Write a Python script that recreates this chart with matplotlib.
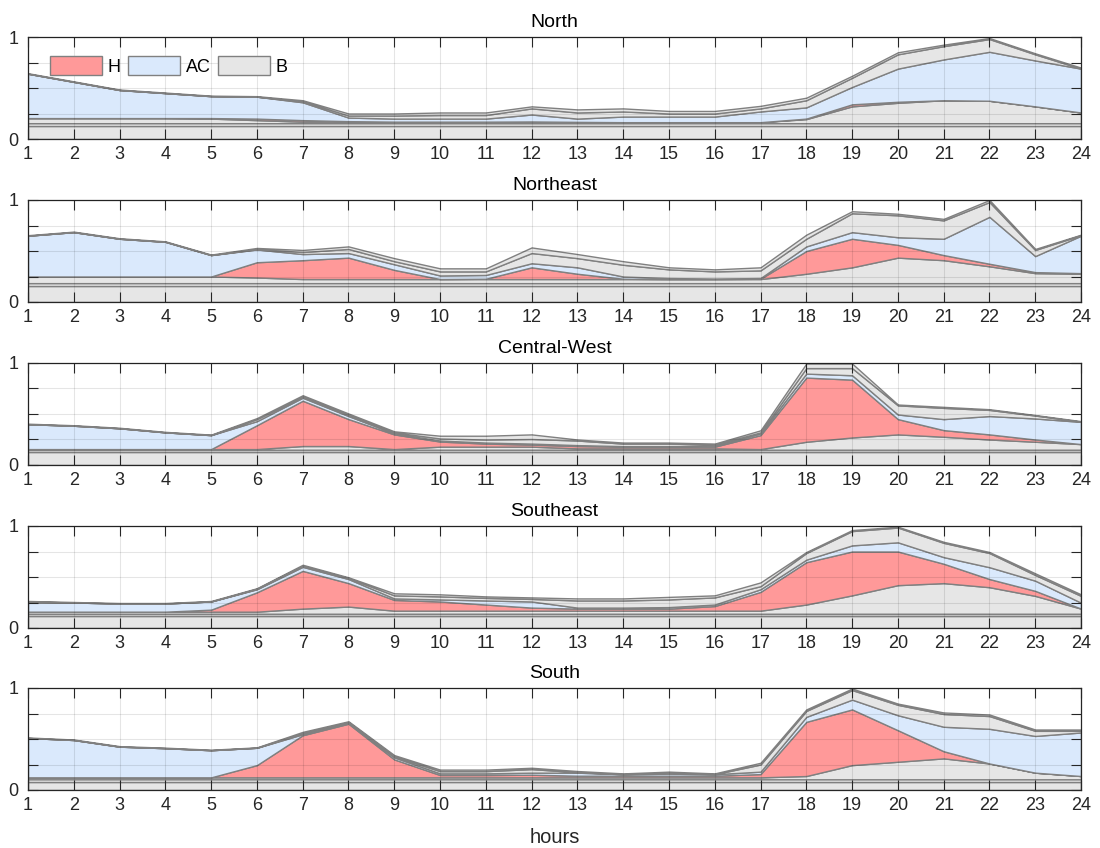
import numpy as np
import matplotlib
matplotlib.use('Agg')
import matplotlib.pyplot as plt
from matplotlib.patches import Patch

plt.rcParams['font.family'] = ['Liberation Sans', 'DejaVu Sans']

hours = np.arange(1, 25)
regions = ['North', 'Northeast', 'Central-West', 'Southeast', 'South']
legend_labels = ['H', 'AC', 'B']

# constant bottom B layers (cumulative levels)
base_lo = [0.13, 0.155, 0.13, 0.12, 0.08]
base_hi = [0.155, 0.185, 0.15, 0.14, 0.105]

# cumulative levels: lower B, +H, +AC, +upper B, total
N_low = [0.205,0.205,0.205,0.205,0.2,0.185,0.17,0.17,0.17,0.17,0.17,0.17,0.165,0.165,0.165,0.165,0.165,0.195,0.32,0.355,0.38,0.375,0.32,0.26]
N_h   = [0.205,0.205,0.205,0.205,0.205,0.2,0.185,0.175,0.17,0.17,0.17,0.172,0.168,0.165,0.165,0.165,0.165,0.2,0.34,0.365,0.38,0.375,0.32,0.26]
N_ac  = [0.64,0.56,0.48,0.45,0.42,0.415,0.36,0.21,0.2,0.2,0.2,0.24,0.2,0.22,0.22,0.22,0.27,0.31,0.51,0.69,0.78,0.855,0.77,0.69]
N_up  = [0.64,0.56,0.48,0.45,0.42,0.415,0.37,0.23,0.23,0.235,0.235,0.3,0.26,0.27,0.25,0.25,0.3,0.38,0.6,0.83,0.91,0.98,0.83,0.69]
N_tot = [0.645,0.565,0.485,0.455,0.425,0.42,0.38,0.25,0.25,0.26,0.26,0.32,0.29,0.30,0.275,0.275,0.325,0.405,0.62,0.85,0.925,0.99,0.84,0.70]

NE_low = [0.25,0.25,0.25,0.25,0.25,0.24,0.225,0.225,0.225,0.225,0.225,0.225,0.225,0.225,0.225,0.225,0.225,0.277,0.34,0.435,0.41,0.35,0.283,0.277]
NE_h   = [0.25,0.25,0.25,0.25,0.25,0.39,0.41,0.435,0.315,0.225,0.228,0.34,0.277,0.228,0.225,0.225,0.228,0.50,0.62,0.56,0.46,0.375,0.293,0.283]
NE_ac  = [0.65,0.685,0.62,0.59,0.46,0.515,0.47,0.48,0.37,0.26,0.265,0.38,0.34,0.25,0.235,0.23,0.235,0.545,0.685,0.635,0.62,0.835,0.45,0.65]
NE_up  = [0.65,0.685,0.62,0.59,0.46,0.52,0.49,0.52,0.40,0.30,0.30,0.48,0.43,0.365,0.32,0.30,0.31,0.62,0.87,0.85,0.80,0.98,0.51,0.655]
NE_tot = [0.655,0.69,0.625,0.595,0.465,0.53,0.51,0.545,0.43,0.33,0.33,0.535,0.47,0.40,0.34,0.32,0.34,0.66,0.89,0.865,0.815,1.0,0.52,0.66]

CW_low = [0.156,0.156,0.156,0.156,0.156,0.156,0.186,0.186,0.156,0.18,0.18,0.18,0.163,0.163,0.163,0.163,0.156,0.228,0.27,0.30,0.277,0.25,0.228,0.205]
CW_h   = [0.156,0.156,0.156,0.156,0.156,0.39,0.63,0.45,0.30,0.23,0.21,0.2,0.186,0.18,0.18,0.18,0.293,0.857,0.837,0.45,0.342,0.30,0.25,0.205]
CW_ac  = [0.40,0.385,0.36,0.32,0.293,0.43,0.66,0.48,0.31,0.24,0.22,0.21,0.195,0.185,0.185,0.19,0.31,0.896,0.88,0.495,0.45,0.48,0.456,0.423]
CW_up  = [0.40,0.385,0.36,0.32,0.293,0.45,0.67,0.49,0.32,0.26,0.25,0.255,0.24,0.21,0.21,0.2,0.32,0.95,0.95,0.585,0.56,0.54,0.485,0.425]
CW_tot = [0.405,0.39,0.365,0.325,0.298,0.46,0.684,0.505,0.33,0.287,0.287,0.30,0.25,0.22,0.22,0.21,0.34,0.995,0.995,0.593,0.57,0.547,0.49,0.43]

SE_low = [0.16,0.16,0.16,0.16,0.16,0.16,0.19,0.21,0.17,0.17,0.17,0.17,0.17,0.17,0.17,0.17,0.17,0.23,0.32,0.42,0.44,0.40,0.315,0.19]
SE_h   = [0.16,0.16,0.16,0.16,0.18,0.35,0.56,0.44,0.275,0.26,0.23,0.2,0.19,0.19,0.19,0.215,0.354,0.645,0.75,0.75,0.63,0.48,0.364,0.19]
SE_ac  = [0.25,0.25,0.24,0.24,0.26,0.38,0.60,0.48,0.29,0.28,0.27,0.26,0.2,0.2,0.205,0.23,0.38,0.67,0.81,0.84,0.695,0.596,0.464,0.248]
SE_up  = [0.26,0.25,0.24,0.24,0.26,0.385,0.61,0.49,0.32,0.31,0.295,0.285,0.27,0.27,0.28,0.3,0.41,0.735,0.95,0.985,0.835,0.735,0.52,0.315]
SE_tot = [0.265,0.255,0.245,0.245,0.265,0.39,0.62,0.497,0.34,0.33,0.31,0.30,0.29,0.29,0.305,0.32,0.447,0.745,0.96,0.993,0.845,0.745,0.536,0.33]

S_low = [0.124,0.124,0.124,0.124,0.124,0.124,0.124,0.124,0.124,0.124,0.124,0.124,0.124,0.124,0.124,0.124,0.124,0.137,0.244,0.277,0.31,0.26,0.17,0.137]
S_h   = [0.124,0.124,0.124,0.124,0.124,0.244,0.537,0.65,0.30,0.147,0.147,0.15,0.14,0.14,0.14,0.14,0.156,0.668,0.79,0.586,0.38,0.26,0.17,0.137]
S_ac  = [0.51,0.49,0.425,0.41,0.39,0.414,0.547,0.658,0.32,0.163,0.163,0.17,0.17,0.155,0.16,0.155,0.18,0.717,0.886,0.733,0.62,0.60,0.53,0.564]
S_up  = [0.51,0.49,0.425,0.41,0.39,0.414,0.56,0.665,0.33,0.185,0.185,0.205,0.175,0.155,0.17,0.155,0.25,0.775,0.98,0.835,0.745,0.725,0.58,0.58]
S_tot = [0.515,0.495,0.43,0.415,0.395,0.418,0.57,0.674,0.342,0.20,0.20,0.218,0.186,0.163,0.18,0.163,0.267,0.79,0.995,0.847,0.76,0.74,0.593,0.593]

region_levels = [
    (N_low, N_h, N_ac, N_up, N_tot),
    (NE_low, NE_h, NE_ac, NE_up, NE_tot),
    (CW_low, CW_h, CW_ac, CW_up, CW_tot),
    (SE_low, SE_h, SE_ac, SE_up, SE_tot),
    (S_low, S_h, S_ac, S_up, S_tot),
]

RED = '#FF9999'
BLUE = '#DAE9FC'
GRAY = '#E6E6E6'
EDGE = '#808080'
TXT = '#262626'
layer_colors = [GRAY, GRAY, GRAY, RED, BLUE, GRAY, GRAY]

W, H = 1100, 848
fig = plt.figure(figsize=(W / 100, H / 100), dpi=100)

left_px, right_px = 28, 1081
bottoms_px = [139, 302, 465, 628, 790]
height_px = 102

for i, name in enumerate(regions):
    ax = fig.add_axes([left_px / W, 1 - bottoms_px[i] / H,
                       (right_px - left_px) / W, height_px / H])
    n = len(hours)
    lv = [np.full(n, base_lo[i]), np.full(n, base_hi[i])] + [np.array(a, float) for a in region_levels[i]]
    lv = np.maximum.accumulate(np.vstack(lv), axis=0)
    layers = np.diff(np.vstack([np.zeros(n), lv]), axis=0)
    ax.stackplot(hours, layers, colors=layer_colors, edgecolor=EDGE, linewidth=1.0)

    ax.set_xlim(1, 24)
    ax.set_ylim(0, 1)
    ax.set_xticks(hours)
    ax.set_yticks([0, 0.25, 0.5, 0.75, 1])
    ax.set_yticklabels(['0', '', '', '', '1'])
    ax.tick_params(direction='in', top=True, right=True, length=7, width=0.8,
                   labelsize=13, colors=TXT, pad=5)
    ax.tick_params(axis='y', pad=7)
    ax.grid(True, color='black', alpha=0.1, linewidth=0.8)
    ax.set_axisbelow(False)
    for s in ax.spines.values():
        s.set_color(TXT)
        s.set_linewidth(0.9)
    ax.set_title(name, fontsize=14, color='black', pad=7)

    if i == 0:
        handles = [Patch(facecolor=c, edgecolor=EDGE, linewidth=1.0) for c in (RED, BLUE, GRAY)]
        ax.legend(handles, legend_labels, loc='upper left', ncol=3, frameon=False,
                  fontsize=13, handlelength=2.9, handleheight=1.2, handletextpad=0.3,
                  columnspacing=0.4, bbox_to_anchor=(0.014, 0.88), borderaxespad=0.0)
    if i == len(regions) - 1:
        ax.set_xlabel('hours', fontsize=14.5, color=TXT, labelpad=10)

fig.savefig('out.png', dpi=100)
